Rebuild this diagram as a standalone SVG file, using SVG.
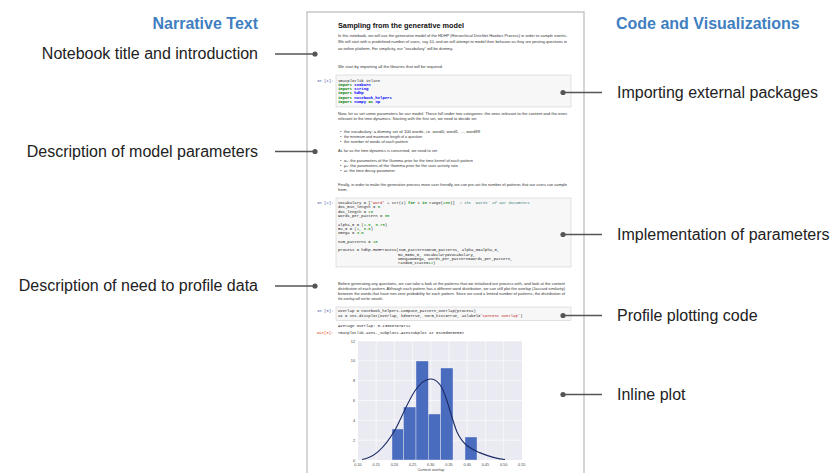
<svg xmlns="http://www.w3.org/2000/svg" width="832" height="473" viewBox="0 0 832 473">
<style>
.hdr{font-family:"Liberation Sans",Arial,sans-serif;font-size:16px;font-weight:bold;fill:#3f7fc1}
.lbl{font-family:"Liberation Sans",Arial,sans-serif;font-size:16px;fill:#222}
.pr{font-family:"Liberation Sans",Arial,sans-serif;font-size:4.2px;fill:#333}
.cd{font-family:"Liberation Mono","Courier New",monospace;font-size:3.9px;fill:#222;white-space:pre}
.kw{fill:#008000;font-weight:bold}
.mod{fill:#0000ff;font-weight:bold}
.str{fill:#ba2121}
.cm{fill:#408080;font-style:italic}
.num{fill:#080}
.pin{font-family:"Liberation Mono","Courier New",monospace;font-size:3.9px;fill:#303f9f}
.pout{font-family:"Liberation Mono","Courier New",monospace;font-size:3.9px;fill:#d84315}
.cell{fill:#f7f7f7;stroke:#cfcfcf;stroke-width:0.6}
.ax{font-family:"Liberation Sans",Arial,sans-serif;font-size:3.8px;fill:#444}
.grid line{stroke:#ffffff;stroke-width:0.6}
.bar{fill:#4a6cbf;stroke:#e8ebf5;stroke-width:0.4}
.conn line{stroke:#555;stroke-width:1.3}
.conn circle{fill:#555}
</style>
<rect width="832" height="473" fill="#ffffff"/>

<g id="header-narrative"><text class="hdr" x="258" y="29" text-anchor="end">Narrative Text</text></g>
<g id="header-code"><text class="hdr" x="616" y="29">Code and Visualizations</text></g>

<g id="label-title"><text class="lbl" x="258" y="59" text-anchor="end">Notebook title and introduction</text></g>
<g id="label-model-params"><text class="lbl" x="258" y="156.5" text-anchor="end">Description of model parameters</text></g>
<g id="label-profile-need"><text class="lbl" x="258" y="291" text-anchor="end">Description of need to profile data</text></g>

<g id="label-imports"><text class="lbl" x="617" y="98">Importing external packages</text></g>
<g id="label-implementation"><text class="lbl" x="617" y="240">Implementation of parameters</text></g>
<g id="label-plotting-code"><text class="lbl" x="617" y="321">Profile plotting code</text></g>
<g id="label-inline-plot"><text class="lbl" x="617" y="400">Inline plot</text></g>

<g id="notebook">
<rect x="307" y="12" width="277" height="470" fill="#ffffff" stroke="#c4c4c4" stroke-width="1.4"/>
<text x="338" y="28" font-family="Liberation Sans,Arial,sans-serif" font-size="7.4" font-weight="bold" fill="#111" textLength="126" lengthAdjust="spacingAndGlyphs">Sampling from the generative model</text>

<text class="pr" x="338" y="36.5" textLength="229" lengthAdjust="spacingAndGlyphs">In this notebook, we will use the generative model of the HDHP (Hierarchical Dirichlet Hawkes Process) in order to sample events.</text>
<text class="pr" x="338" y="43.2" textLength="229" lengthAdjust="spacingAndGlyphs">We will start with a predefined number of users, say 10, and we will attempt to model their behavior as they are posting questions in</text>
<text class="pr" x="338" y="50" textLength="115" lengthAdjust="spacingAndGlyphs">an online platform. For simplicity, our “vocabulary” will be dummy.</text>
<text class="pr" x="338" y="67.5" textLength="105" lengthAdjust="spacingAndGlyphs">We start by importing all the libraries that will be required.</text>

<text class="pin" x="317" y="81.5">In [1]:</text>
<rect class="cell" x="336" y="75" width="235" height="32"/>
<text class="cd" x="338" y="81.5">%matplotlib inline</text>
<text class="cd" x="338" y="85.8"><tspan class="kw">import</tspan> <tspan class="mod">seaborn</tspan></text>
<text class="cd" x="338" y="90.1"><tspan class="kw">import</tspan> <tspan class="mod">string</tspan></text>
<text class="cd" x="338" y="94.4"><tspan class="kw">import</tspan> <tspan class="mod">hdhp</tspan></text>
<text class="cd" x="338" y="98.7"><tspan class="kw">import</tspan> <tspan class="mod">notebook_helpers</tspan></text>
<text class="cd" x="338" y="103"><tspan class="kw">import</tspan> <tspan class="mod">numpy</tspan> <tspan class="kw">as</tspan> <tspan class="mod">np</tspan></text>

<text class="pr" x="338" y="114.5" textLength="229" lengthAdjust="spacingAndGlyphs">Now, let us set some parameters for our model. These fall under two categories: the ones relevant to the content and the ones</text>
<text class="pr" x="338" y="119.5" textLength="139" lengthAdjust="spacingAndGlyphs">relevant to the time dynamics. Starting with the first set, we need to decide on:</text>
<text class="pr" x="340" y="132.5">•</text><text class="pr" x="344" y="132.5" textLength="136" lengthAdjust="spacingAndGlyphs">the vocabulary: a dummy set of 100 words, i.e. word0, word1, ..., word99</text>
<text class="pr" x="340" y="137.5">•</text><text class="pr" x="344" y="137.5" textLength="78" lengthAdjust="spacingAndGlyphs">the minimum and maximum length of a question</text>
<text class="pr" x="340" y="142.5">•</text><text class="pr" x="344" y="142.5" textLength="64" lengthAdjust="spacingAndGlyphs">the number of words of each pattern</text>
<text class="pr" x="338" y="151.5" textLength="100" lengthAdjust="spacingAndGlyphs">As far as the time dynamics is concerned, we need to set:</text>
<text class="pr" x="340" y="161.5">•</text><text class="pr" x="344" y="161.5" textLength="129" lengthAdjust="spacingAndGlyphs">α₀: the parameters of the Gamma prior for the time kernel of each pattern</text>
<text class="pr" x="340" y="166.5">•</text><text class="pr" x="344" y="166.5" textLength="114" lengthAdjust="spacingAndGlyphs">μ₀: the parameters of the Gamma prior for the user activity rate</text>
<text class="pr" x="340" y="172">•</text><text class="pr" x="344" y="172" textLength="51" lengthAdjust="spacingAndGlyphs">ω: the time decay parameter</text>
<text class="pr" x="338" y="185.5" textLength="229" lengthAdjust="spacingAndGlyphs">Finally, in order to make the generative process more user friendly, we can pre-set the number of patterns that our users can sample</text>
<text class="pr" x="338" y="190.5">from.</text>

<text class="pin" x="317" y="204">In [2]:</text>
<rect class="cell" x="336" y="198" width="235" height="69"/>
<text class="cd" x="338" y="204">vocabulary = [<tspan class="str">'word'</tspan> + str(i) <tspan class="kw">for</tspan> i <tspan class="kw">in</tspan> range(<tspan class="num">100</tspan>)]  <tspan class="cm"># the `words` of our documents</tspan></text>
<text class="cd" x="338" y="208.3">doc_min_length = <tspan class="num">5</tspan></text>
<text class="cd" x="338" y="212.6">doc_length = <tspan class="num">10</tspan></text>
<text class="cd" x="338" y="216.9">words_per_pattern = <tspan class="num">30</tspan></text>
<text class="cd" x="338" y="225.5">alpha_0 = (<tspan class="num">2.5</tspan>, <tspan class="num">0.75</tspan>)</text>
<text class="cd" x="338" y="229.8">mu_0 = (<tspan class="num">2</tspan>, <tspan class="num">0.5</tspan>)</text>
<text class="cd" x="338" y="234.1">omega = <tspan class="num">3.5</tspan></text>
<text class="cd" x="338" y="242.7">num_patterns = <tspan class="num">10</tspan></text>
<text class="cd" x="338" y="251.3">process = hdhp.HDHProcess(num_patterns=num_patterns, alpha_0=alpha_0,</text>
<text class="cd" x="398" y="255.6">mu_0=mu_0, vocabulary=vocabulary,</text>
<text class="cd" x="398" y="259.9">omega=omega, words_per_pattern=words_per_pattern,</text>
<text class="cd" x="398" y="264.2">random_state=<tspan class="num">12</tspan>)</text>

<text class="pr" x="338" y="284.8" textLength="227" lengthAdjust="spacingAndGlyphs">Before generating any questions, we can take a look at the patterns that we initialized our process with, and look at the content</text>
<text class="pr" x="338" y="289.8" textLength="227" lengthAdjust="spacingAndGlyphs">distribution of each pattern. Although each pattern has a different word distribution, we can still plot the overlap (Jaccard similarity)</text>
<text class="pr" x="338" y="294.8" textLength="227" lengthAdjust="spacingAndGlyphs">between the words that have non zero probability for each pattern. Since we used a limited number of patterns, the distribution of</text>
<text class="pr" x="338" y="299.8" textLength="45" lengthAdjust="spacingAndGlyphs">the overlap will not be smooth.</text>

<text class="pin" x="317" y="312.3">In [3]:</text>
<rect class="cell" x="336" y="307" width="235" height="13.5"/>
<text class="cd" x="338" y="312.3">overlap = notebook_helpers.compute_pattern_overlap(process)</text>
<text class="cd" x="338" y="317">ax = sns.distplot(overlap, kde=True, norm_hist=True, axlabel=<tspan class="str">'Content overlap'</tspan>)</text>
<text class="cd" x="338" y="326.5">Average overlap: 0.138887979722</text>
<text class="pout" x="317" y="333.5">Out[3]:</text>
<text class="cd" x="338" y="333.5">&lt;matplotlib.axes._subplots.AxesSubplot at 0x10d8e5e50&gt;</text>

<g id="inline-plot">
<rect x="358" y="341" width="164" height="119" fill="#eaeaf2"/>
<g class="grid">
<line x1="358" y1="341" x2="522" y2="341"/><line x1="358" y1="360.8" x2="522" y2="360.8"/><line x1="358" y1="380.7" x2="522" y2="380.7"/><line x1="358" y1="400.5" x2="522" y2="400.5"/><line x1="358" y1="420.3" x2="522" y2="420.3"/><line x1="358" y1="440.2" x2="522" y2="440.2"/>
<line x1="376.2" y1="341" x2="376.2" y2="460"/><line x1="394.4" y1="341" x2="394.4" y2="460"/><line x1="412.6" y1="341" x2="412.6" y2="460"/><line x1="430.8" y1="341" x2="430.8" y2="460"/><line x1="449" y1="341" x2="449" y2="460"/><line x1="467.2" y1="341" x2="467.2" y2="460"/><line x1="485.4" y1="341" x2="485.4" y2="460"/><line x1="503.6" y1="341" x2="503.6" y2="460"/>
</g>
<rect class="bar" x="392" y="429" width="11.5" height="31"/>
<rect class="bar" x="403.5" y="407" width="12.5" height="53"/>
<rect class="bar" x="416" y="361" width="12.3" height="99"/>
<rect class="bar" x="428.3" y="414" width="12.4" height="46"/>
<rect class="bar" x="440.7" y="368" width="12.3" height="92"/>
<rect class="bar" x="465" y="437" width="12" height="23"/>
<path d="M362,459.5 C375,458 385,447 395,430 C405,412 415,380 430,379 C445,378 448,410 457,432 C463,445 470,448 478,452 C488,456 495,459 505,459.5" fill="none" stroke="#1c2a66" stroke-width="1.1"/>
<g class="ax" text-anchor="end">
<text x="355" y="342.5">12</text><text x="355" y="362.3">10</text><text x="355" y="382.2">8</text><text x="355" y="402">6</text><text x="355" y="421.8">4</text><text x="355" y="441.7">2</text><text x="355" y="461.5">0</text>
</g>
<g class="ax" text-anchor="middle">
<text x="358" y="465.5">0.10</text><text x="376.2" y="465.5">0.15</text><text x="394.4" y="465.5">0.20</text><text x="412.6" y="465.5">0.25</text><text x="430.8" y="465.5">0.30</text><text x="449" y="465.5">0.35</text><text x="467.2" y="465.5">0.40</text><text x="485.4" y="465.5">0.45</text><text x="503.6" y="465.5">0.50</text><text x="521.8" y="465.5">0.55</text>
<text x="431" y="470.5">Content overlap</text>
</g>
</g>
</g>

<g id="connectors" class="conn">
<line x1="275" y1="54" x2="315" y2="54"/><circle cx="315" cy="54" r="2.6"/>
<line x1="275" y1="151.5" x2="315" y2="151.5"/><circle cx="315" cy="151.5" r="2.6"/>
<line x1="275" y1="286" x2="315" y2="286"/><circle cx="315" cy="286" r="2.6"/>
<line x1="563" y1="92.5" x2="602" y2="92.5"/><circle cx="563" cy="92.5" r="2.6"/>
<line x1="563" y1="234.5" x2="602" y2="234.5"/><circle cx="563" cy="234.5" r="2.6"/>
<line x1="563" y1="315.5" x2="602" y2="315.5"/><circle cx="563" cy="315.5" r="2.6"/>
<line x1="563" y1="394.5" x2="602" y2="394.5"/><circle cx="563" cy="394.5" r="2.6"/>
</g>
</svg>
